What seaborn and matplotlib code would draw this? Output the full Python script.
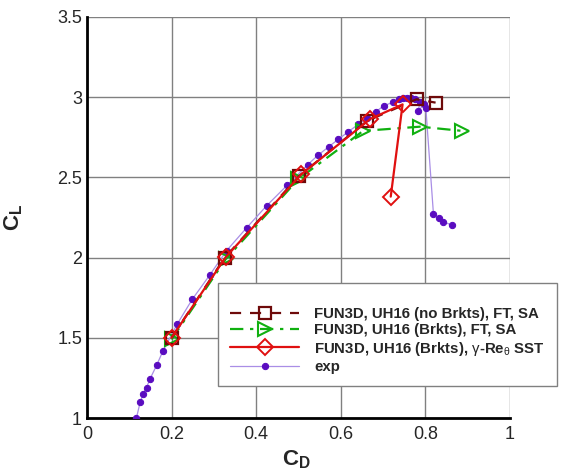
import numpy as np
import pandas as pd
import seaborn as sns
import matplotlib.pyplot as plt
from matplotlib.ticker import MultipleLocator

sns.set_style("white")
plt.rcParams['font.family'] = ['Liberation Sans', 'DejaVu Sans']
plt.rcParams['mathtext.fontset'] = 'custom'
plt.rcParams['mathtext.rm'] = 'Liberation Sans'
plt.rcParams['mathtext.bf'] = 'Liberation Sans:bold'
plt.rcParams['mathtext.it'] = 'Liberation Sans:italic'

# ----------------------------------------------------------------------------------------------------------------------
# FUN3D, no brackets, SA
cd_nobrk = [0.200, 0.326, 0.502, 0.663, 0.779, 0.824]
cl_nobrk = [1.500, 2.000, 2.510, 2.853, 2.987, 2.966]

# FUN3D, brackets, SA
cd_brk_sa = [0.200, 0.328, 0.500, 0.653, 0.787, 0.886]
cl_brk_sa = [1.490, 1.990, 2.490, 2.790, 2.816, 2.790]

# FUN3D, brackets, gamma-Re_theta SST
cd_brk_sst = [0.200, 0.328, 0.507, 0.670, 0.746, 0.718]
cl_brk_sst = [1.500, 2.003, 2.520, 2.865, 2.955, 2.380]

# Experiment
cd_exp = [0.117, 0.126, 0.133, 0.141, 0.149, 0.165, 0.180, 0.2135, 0.249, 0.290, 0.330, 0.3775,
          0.425, 0.474, 0.522, 0.547, 0.571, 0.594, 0.618, 0.641, 0.663, 0.683, 0.702, 0.723,
          0.738, 0.748, 0.757, 0.766, 0.775, 0.787, 0.783, 0.797, 0.801, 0.819, 0.831, 0.842, 0.862]
cl_exp = [1.000, 1.100, 1.150, 1.190, 1.243, 1.330, 1.420, 1.586, 1.740, 1.890, 2.043, 2.186,
          2.324, 2.453, 2.580, 2.640, 2.690, 2.737, 2.785, 2.830, 2.870, 2.910, 2.947, 2.968,
          2.990, 2.993, 2.993, 2.993, 2.987, 2.968, 2.914, 2.956, 2.930, 2.270, 2.249, 2.224, 2.203]

labels = ["FUN3D, UH16 (no Brkts), FT, SA",
          "FUN3D, UH16 (Brkts), FT, SA",
          r"FUN3D, UH16 (Brkts), $\mathrm{\gamma}$-Re$_\mathrm{\theta}$ SST",
          "exp"]

x_ticks = [0, 0.2, 0.4, 0.6, 0.8, 1.0]
x_tick_labels = ["0", "0.2", "0.4", "0.6", "0.8", "1"]
y_ticks = [1, 1.5, 2, 2.5, 3, 3.5]
y_tick_labels = ["1", "1.5", "2", "2.5", "3", "3.5"]
# ----------------------------------------------------------------------------------------------------------------------

fig = plt.figure(figsize=(5.68, 4.71), dpi=100)
ax = fig.add_axes([0.153, 0.1125, 0.745, 0.8515])

df_exp = pd.DataFrame({"cd": cd_exp, "cl": cl_exp})
df_nobrk = pd.DataFrame({"cd": cd_nobrk, "cl": cl_nobrk})
df_sa = pd.DataFrame({"cd": cd_brk_sa, "cl": cl_brk_sa})
df_sst = pd.DataFrame({"cd": cd_brk_sst, "cl": cl_brk_sst})

# Draw order: exp underneath, CFD on top
sns.lineplot(data=df_exp, x="cd", y="cl", sort=False, estimator=None, ax=ax,
             color="#a98ee6", linewidth=0.9, marker="o", markersize=4.5,
             markerfacecolor="#5a0cc0", markeredgecolor="#5a0cc0", label=labels[3], zorder=3)
sns.lineplot(data=df_sa, x="cd", y="cl", sort=False, estimator=None, ax=ax,
             color="#10b010", linewidth=1.6, linestyle=(0, (6, 3, 1.5, 3)),
             marker=">", markersize=10, markerfacecolor="none", markeredgecolor="#10b010",
             markeredgewidth=1.5, label=labels[1], zorder=4)
sns.lineplot(data=df_nobrk, x="cd", y="cl", sort=False, estimator=None, ax=ax,
             color="#6e0a0a", linewidth=1.6, linestyle=(0, (5, 4)),
             marker="s", markersize=9, markerfacecolor="none", markeredgecolor="#6e0a0a",
             markeredgewidth=1.6, label=labels[0], zorder=5)
sns.lineplot(data=df_sst, x="cd", y="cl", sort=False, estimator=None, ax=ax,
             color="#e01010", linewidth=1.6, marker="D", markersize=8.5,
             markerfacecolor="none", markeredgecolor="#e01010", markeredgewidth=1.4,
             label=labels[2], zorder=6)

# Axes styling (tecplot look)
ax.set_xlim(0, 1)
ax.set_ylim(1, 3.5)
ax.set_xticks(x_ticks, x_tick_labels)
ax.set_yticks(y_ticks, y_tick_labels)
ax.xaxis.set_minor_locator(MultipleLocator(0.05))
ax.yaxis.set_minor_locator(MultipleLocator(0.1))
ax.tick_params(which="major", direction="in", length=7, width=2, labelsize=13, color="black")
ax.tick_params(which="minor", direction="in", length=4, width=1, color="#555555")
ax.tick_params(axis="x", which="major", pad=6)
ax.grid(True, which="major", color="#808080", linewidth=1.0)
ax.set_axisbelow(True)
for side in ["top", "right"]:
    ax.spines[side].set_visible(False)
for side in ["left", "bottom"]:
    ax.spines[side].set_linewidth(2)
    ax.spines[side].set_color("black")

ax.set_xlabel(r"$\mathbf{C_D}$", fontsize=16)
ax.set_ylabel(r"$\mathbf{C_L}$", fontsize=16, rotation=90)
ax.xaxis.set_label_coords(0.496, -0.075)
ax.yaxis.set_label_coords(-0.147, 0.5)

# Legend in the original order, blank title gives the extra top margin
handles, lbls = ax.get_legend_handles_labels()
order = [lbls.index(l) for l in labels]
leg = ax.legend([handles[i] for i in order], [lbls[i] for i in order],
                loc="upper left", bbox_to_anchor=(0.31, 0.337), borderaxespad=0,
                frameon=True, fancybox=False, title=" ", title_fontsize=7,
                edgecolor="#808080", framealpha=1, handlelength=4.6, handletextpad=1.0,
                borderpad=0.8, labelspacing=0.15, prop={"weight": "bold", "size": 10.8})
leg.get_frame().set_linewidth(1.0)
leg.set_zorder(10)

plt.savefig("out.png", dpi=100)
